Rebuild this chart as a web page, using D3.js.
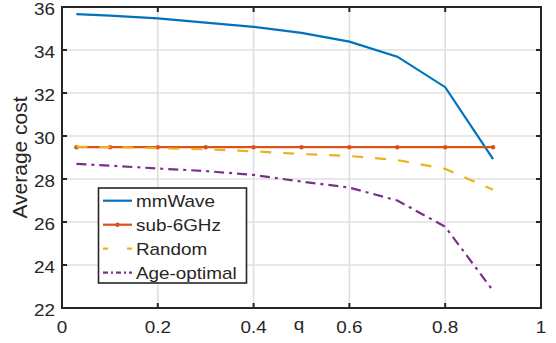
<!DOCTYPE html>
<html lang="en">
<head>
  <meta charset="UTF-8">
  <title>Average cost vs q</title>
  <script src="https://d3js.org/d3.v7.min.js"></script>
  <style>
    body { margin: 0; background: #fff; }
    text { font-family: "Liberation Sans", Arial, Helvetica, sans-serif; fill: #262626; }
  </style>
</head>
<body>
  <div id="chart"></div>
  <script>
    // values
    const q = [0.03, 0.1, 0.2, 0.3, 0.4, 0.5, 0.6, 0.7, 0.8, 0.9];
    const mmWave = [35.67, 35.6, 35.47, 35.27, 35.08, 34.8, 34.39, 33.69, 32.27, 28.92];
    const sub6 = [29.48, 29.48, 29.48, 29.48, 29.48, 29.48, 29.48, 29.48, 29.48, 29.48];
    const random = [29.5, 29.48, 29.43, 29.38, 29.29, 29.16, 29.07, 28.88, 28.47, 27.5];
    const ageOpt = [28.7, 28.62, 28.49, 28.37, 28.19, 27.88, 27.6, 27.0, 25.78, 22.8];

    const seriesNames = ["mmWave", "sub-6GHz", "Random", "Age-optimal"];
    const xTicks = [0, 0.2, 0.4, 0.6, 0.8, 1];
    const yTicks = [22, 24, 26, 28, 30, 32, 34, 36];

    const width = 556, height = 343;
    const margin = { top: 7, right: 15, bottom: 35, left: 62 };
    const stretch = 1.18;

    const svg = d3.select("#chart").append("svg")
      .attr("width", width)
      .attr("height", height);

    svg.append("rect").attr("width", width).attr("height", height).attr("fill", "#fff");

    const x = d3.scaleLinear().domain([0, 1]).range([margin.left, width - margin.right]);
    const y = d3.scaleLinear().domain([22, 36]).range([height - margin.bottom, margin.top]);

    // grid
    svg.append("g").selectAll("line").data(xTicks).enter().append("line")
      .attr("x1", d => x(d)).attr("x2", d => x(d))
      .attr("y1", y(22)).attr("y2", y(36))
      .attr("stroke", "#dfdfdf").attr("stroke-width", 1.6);
    svg.append("g").selectAll("line").data(yTicks).enter().append("line")
      .attr("x1", x(0)).attr("x2", x(1))
      .attr("y1", d => y(d)).attr("y2", d => y(d))
      .attr("stroke", "#dfdfdf").attr("stroke-width", 1.6);

    const series = [
      { name: seriesNames[0], values: mmWave, color: "#0072BD", dash: null, marker: false },
      { name: seriesNames[1], values: sub6, color: "#D95319", dash: null, marker: true },
      { name: seriesNames[2], values: random, color: "#EDB120", dash: "11,12", marker: false },
      { name: seriesNames[3], values: ageOpt, color: "#7E2F8E", dash: "10,5,3,5", marker: false }
    ];

    const line = d3.line().x(d => x(d[0])).y(d => y(d[1]));

    series.forEach(s => {
      const pts = q.map((v, i) => [v, s.values[i]]);
      svg.append("path")
        .datum(pts)
        .attr("d", line)
        .attr("fill", "none")
        .attr("stroke", s.color)
        .attr("stroke-width", 2.2)
        .attr("stroke-dasharray", s.dash);
      if (s.marker) {
        svg.append("g").selectAll("circle").data(pts).enter().append("circle")
          .attr("cx", d => x(d[0])).attr("cy", d => y(d[1]))
          .attr("r", 2.2).attr("fill", s.color);
      }
    });

    // axes box and ticks (MATLAB style, ticks inside)
    const axisColor = "#262626";
    svg.append("rect")
      .attr("x", x(0)).attr("y", y(36))
      .attr("width", x(1) - x(0)).attr("height", y(22) - y(36))
      .attr("fill", "none").attr("stroke", axisColor).attr("stroke-width", 2);

    const tl = 5;
    const ticks = svg.append("g").attr("stroke", axisColor).attr("stroke-width", 2);
    xTicks.forEach(t => {
      ticks.append("line").attr("x1", x(t)).attr("x2", x(t)).attr("y1", y(22)).attr("y2", y(22) - tl);
      ticks.append("line").attr("x1", x(t)).attr("x2", x(t)).attr("y1", y(36)).attr("y2", y(36) + tl);
    });
    yTicks.forEach(t => {
      ticks.append("line").attr("x1", x(0)).attr("x2", x(0) + tl).attr("y1", y(t)).attr("y2", y(t));
      ticks.append("line").attr("x1", x(1)).attr("x2", x(1) - tl).attr("y1", y(t)).attr("y2", y(t));
    });

    function label(px, py, str, anchor, size) {
      svg.append("text")
        .attr("transform", `translate(${px},${py}) scale(${stretch},1)`)
        .attr("text-anchor", anchor)
        .attr("font-size", size)
        .text(str);
    }

    xTicks.forEach(t => label(x(t), 333, d3.format("~g")(t), "middle", 16));
    yTicks.forEach(t => label(55, y(t) + 8, t, "end", 16));
    label(299, 330, "q", "middle", 16);

    svg.append("text")
      .attr("transform", `translate(27,${(y(22) + y(36)) / 2}) rotate(-90)`)
      .attr("text-anchor", "middle")
      .attr("font-size", 21)
      .text("Average cost");

    // legend
    const lg = { x: 98.5, y: 188, w: 148, h: 95 };
    svg.append("rect")
      .attr("x", lg.x).attr("y", lg.y).attr("width", lg.w).attr("height", lg.h)
      .attr("fill", "#fff").attr("stroke", axisColor).attr("stroke-width", 1.6);

    series.forEach((s, i) => {
      const by = 206.7 + i * 24;
      const ly = by - 6;
      svg.append("line")
        .attr("x1", 103).attr("x2", 132).attr("y1", ly).attr("y2", ly)
        .attr("stroke", s.color).attr("stroke-width", 2.2)
        .attr("stroke-dasharray", s.dash === "11,12" ? "5,19" : (s.dash ? "5,3,2,3" : null));
      if (s.marker) {
        svg.append("circle").attr("cx", 117.5).attr("cy", ly).attr("r", 2.2).attr("fill", s.color);
      }
      label(136, by, s.name, "start", 16);
    });
  </script>
</body>
</html>
